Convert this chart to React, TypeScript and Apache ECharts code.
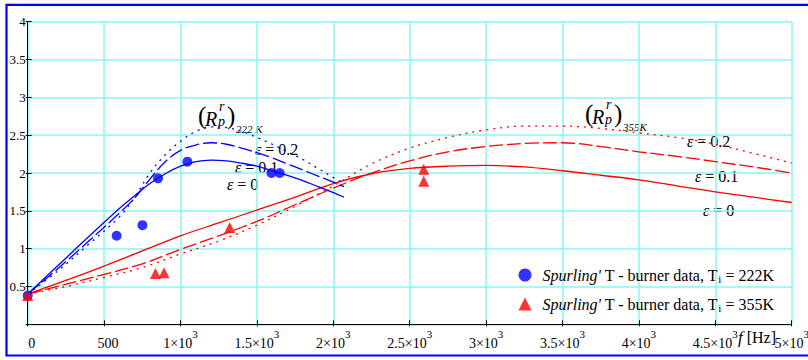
import React, { useEffect, useRef } from "react";
import * as echarts from "echarts";

const FONT = "Liberation Serif, Times New Roman, serif";
const BLUE = "#0000ff";
const RED = "#ff0000";
const GRID_COLOR = "#86f6f6";

// Axis tick labels
const xTickLabels = ["0", "500", "1×10^3", "1.5×10^3", "2×10^3", "2.5×10^3", "3×10^3", "3.5×10^3", "4×10^3", "4.5×10^3", "5×10^3"];
const yTickLabels = ["", "0.5", "1", "1.5", "2", "2.5", "3", "3.5", "4"];

// Model curves, T_i = 222 K
const freq222 = [0, 200, 400, 600, 700, 800, 900, 1000, 1100, 1200, 1300, 1400, 1500, 1600, 1700, 1800, 1900, 2000, 2070];
const rp222Eps0 = [0.4, 0.78, 1.16, 1.53, 1.7, 1.86, 1.99, 2.09, 2.15, 2.17, 2.16, 2.13, 2.09, 2.03, 1.97, 1.9, 1.82, 1.74, 1.68];
const rp222Eps01 = [0.4, 0.74, 1.1, 1.47, 1.67, 1.92, 2.15, 2.3, 2.37, 2.4, 2.38, 2.33, 2.27, 2.2, 2.12, 2.04, 1.96, 1.88, 1.82];
const rp222Eps02 = [0.4, 0.71, 1.06, 1.42, 1.68, 2.0, 2.24, 2.42, 2.55, 2.61, 2.6, 2.55, 2.47, 2.38, 2.28, 2.18, 2.06, 1.94, 1.86];

// Model curves, T_i = 355 K
const freq355 = [0, 250, 500, 750, 1000, 1250, 1500, 1750, 2000, 2250, 2500, 2750, 3000, 3250, 3500, 3750, 4000, 4250, 4500, 4750, 5000];
const rp355Eps0 = [0.4, 0.58, 0.77, 0.97, 1.17, 1.34, 1.51, 1.68, 1.86, 1.99, 2.06, 2.09, 2.1, 2.08, 2.03, 1.97, 1.91, 1.83, 1.75, 1.68, 1.61];
const rp355Eps01 = [0.4, 0.53, 0.66, 0.8, 0.99, 1.17, 1.36, 1.58, 1.8, 2.0, 2.16, 2.28, 2.35, 2.39, 2.4, 2.35, 2.28, 2.22, 2.15, 2.08, 2.0];
const rp355Eps02 = [0.4, 0.5, 0.62, 0.75, 0.93, 1.1, 1.31, 1.56, 1.83, 2.12, 2.33, 2.47, 2.57, 2.62, 2.62, 2.59, 2.53, 2.47, 2.38, 2.26, 2.13];

// Spurling's T-burner measurements
const data222F = [0, 582, 751, 853, 1045, 1595, 1649];
const data222V = [0.38, 1.17, 1.31, 1.93, 2.15, 2.0, 2.0];
const data355F = [0, 836, 892, 1322, 2592, 2592];
const data355V = [0.38, 0.67, 0.68, 1.28, 2.05, 1.89];

const legendTemps = ["222", "355"];
const legendNames = legendTemps.map((t) => `Spurling' T - burner data, Ti = ${t}K`);

const pairs = (xs: number[], ys: number[]) => xs.map((x, i) => [x, ys[i]]);

const lineSeries = (data: number[][], color: string, type: any, z = 2) => ({
  type: "line",
  data,
  smooth: 0.35,
  showSymbol: false,
  silent: true,
  z,
  lineStyle: { color, width: 1.3, type },
});

const DASH = [14, 4];
const DOT = [2, 5];

// (R_p^r) with a temperature subscript, built from separately placed glyphs
function rpLabel(x: number, y: number, sub: string, color = "#000") {
  const t = (text: string, dx: number, cy: number, size: number, italic: boolean) => ({
    type: "text",
    x: x + dx,
    y: y + cy,
    style: {
      text,
      fill: color,
      fontFamily: FONT,
      fontSize: size,
      fontStyle: italic ? "italic" : "normal",
      align: "left",
      verticalAlign: "middle",
    },
  });
  return {
    type: "group",
    children: [
      t("(", 0, 8.5, 25, false),
      t("R", 7, 11.5, 20, true),
      t("r", 21, -1, 14, true),
      t("p", 20, 14, 14, true),
      t(")", 29, 8.5, 25, false),
      t(sub, 38, 22, 11, true),
    ],
  };
}

function epsLabel(x: number, cy: number, value: string) {
  return {
    type: "text",
    x,
    y: cy,
    style: {
      text: `{e|ε}{n| = ${value}}`,
      align: "left",
      verticalAlign: "middle",
      rich: {
        e: { fontFamily: FONT, fontSize: 16, fontStyle: "italic", fill: "#000" },
        n: { fontFamily: FONT, fontSize: 16, fill: "#000" },
      },
    },
  };
}

export default function App() {
  const ref = useRef<HTMLDivElement>(null);

  useEffect(() => {
    if (!ref.current) return;
    const chart = echarts.init(ref.current, undefined, { renderer: "svg" });

    const xLabelRich = {
      b: { fontFamily: FONT, fontSize: 14, color: "#000", lineHeight: 22, verticalAlign: "bottom" },
      p: { fontFamily: FONT, fontSize: 14, color: "#000", lineHeight: 22, verticalAlign: "bottom", padding: [0, 0, 0, 8] },
      sup: { fontFamily: FONT, fontSize: 11, color: "#000", lineHeight: 8, verticalAlign: "top" },
    };

    const baseX = {
      type: "value",
      min: 0,
      max: 5000,
      interval: 500,
      position: "bottom",
    };
    const baseY = {
      type: "value",
      min: 0,
      max: 4,
      interval: 0.5,
      position: "left",
    };

    chart.setOption({
      animation: false,
      backgroundColor: "#fff",
      textStyle: { fontFamily: FONT },
      grid: {
        left: 27.7,
        right: 16.3,
        top: 21.7,
        bottom: 35.7,
        outerBoundsMode: "none",
        containLabel: false,
      },
      xAxis: [
        {
          ...baseX,
          axisLine: { show: true, lineStyle: { color: "#000", width: 1 } },
          axisTick: { show: true, inside: false, length: 2, lineStyle: { color: "#000" } },
          splitLine: { show: true, lineStyle: { color: GRID_COLOR, width: 1.5 } },
          axisLabel: {
            margin: 4,
            showMinLabel: true,
            showMaxLabel: true,
            formatter: (_v: number, i: number) => {
              const s = xTickLabels[i] ?? "";
              if (s.includes("^")) {
                const [b, e] = s.split("^");
                return `{b|${b}}{sup|${e}}`;
              }
              return `{p|${s}}`;
            },
            rich: xLabelRich,
          },
        },
        {
          ...baseX,
          axisLine: { show: false },
          axisTick: { show: true, inside: true, length: 4, lineStyle: { color: "#000" } },
          splitLine: { show: false },
          axisLabel: { show: false },
        },
      ],
      yAxis: [
        {
          ...baseY,
          axisLine: { show: true, lineStyle: { color: "#000", width: 1 } },
          axisTick: { show: true, inside: false, length: 2, lineStyle: { color: "#000" } },
          splitLine: { show: true, lineStyle: { color: GRID_COLOR, width: 1.5 } },
          axisLabel: {
            margin: 2,
            showMinLabel: true,
            showMaxLabel: true,
            fontFamily: FONT,
            fontSize: 13,
            color: "#000",
            formatter: (_v: number, i: number) => yTickLabels[i] ?? "",
          },
        },
        {
          ...baseY,
          axisLine: { show: false },
          axisTick: { show: true, inside: true, length: 4, lineStyle: { color: "#000" } },
          splitLine: { show: false },
          axisLabel: { show: false },
        },
      ],
      legend: {
        orient: "vertical",
        left: 518.5,
        top: 267,
        padding: 0,
        itemWidth: 13,
        itemHeight: 13,
        itemGap: 12,
        selectedMode: false,
        data: [
          { name: legendNames[0], icon: "circle" },
          { name: legendNames[1], icon: "triangle" },
        ],
        formatter: (name: string) => {
          const k = legendNames.indexOf(name);
          return `{i|Spurling'}{n| T - burner data, T}{s|i}{n| = ${legendTemps[k]}K}`;
        },
        textStyle: {
          fontFamily: FONT,
          fontSize: 16,
          color: "#000",
          padding: [0, 0, 0, 6],
          rich: {
            i: { fontFamily: FONT, fontSize: 16, fontStyle: "italic", lineHeight: 18 },
            n: { fontFamily: FONT, fontSize: 16, lineHeight: 18 },
            s: { fontFamily: FONT, fontSize: 11, lineHeight: 8, verticalAlign: "bottom" },
          },
        },
      },
      series: [
        lineSeries(pairs(freq355, rp355Eps0), RED, "solid"),
        lineSeries(pairs(freq355, rp355Eps01), RED, DASH),
        lineSeries(pairs(freq355, rp355Eps02), RED, DOT),
        lineSeries(pairs(freq222, rp222Eps0), BLUE, "solid", 3),
        lineSeries(pairs(freq222, rp222Eps01), BLUE, DASH, 3),
        lineSeries(pairs(freq222, rp222Eps02), BLUE, DOT, 3),
        {
          type: "scatter",
          name: legendNames[0],
          data: pairs(data222F, data222V),
          symbol: "circle",
          symbolSize: 10,
          itemStyle: { color: BLUE },
          z: 4,
          silent: true,
        },
        {
          type: "scatter",
          name: legendNames[1],
          data: pairs(data355F, data355V),
          symbol: "triangle",
          symbolSize: 11,
          itemStyle: { color: RED },
          z: 5,
          silent: true,
        },
      ],
      graphic: [
        {
          type: "rect",
          shape: { x: 6.5, y: 4.8, width: 820, height: 350.7 },
          style: { fill: "none", stroke: BLUE, lineWidth: 2.2 },
          silent: true,
          z: 100,
        },
        rpLabel(198, 107, "222 K"),
        rpLabel(585, 105, "355K"),
        epsLabel(255, 149, "0.2"),
        epsLabel(235, 167.5, "0.1"),
        epsLabel(227, 184, "0"),
        epsLabel(687, 141, "0.2"),
        epsLabel(695, 176, "0.1"),
        epsLabel(703, 210.5, "0"),
        {
          type: "text",
          x: 738,
          y: 337,
          style: {
            text: "{f|f}{n| [Hz]}",
            align: "left",
            verticalAlign: "middle",
            rich: {
              f: { fontFamily: FONT, fontSize: 17, fontStyle: "italic", fill: "#000" },
              n: { fontFamily: FONT, fontSize: 16, fill: "#000" },
            },
          },
        },
      ],
    });

    return () => chart.dispose();
  }, []);

  return (
    <div
      ref={ref}
      style={{ position: "fixed", left: 0, top: 0, width: 808, height: 360, background: "#fff" }}
    />
  );
}
